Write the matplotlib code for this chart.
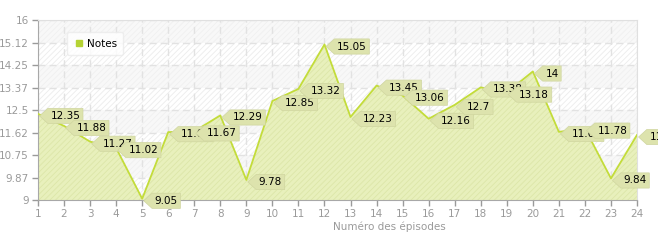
import numpy as np
import matplotlib.pyplot as plt
from matplotlib.lines import Line2D
from matplotlib.path import Path

# episode numbers and ratings
episodes = list(range(1, 25))
notes = [12.35, 11.88, 11.27, 11.02, 9.05, 11.64, 11.67, 12.29, 9.78, 12.85,
         13.32, 15.05, 12.23, 13.45, 13.06, 12.16, 12.7, 13.38, 13.18, 14,
         11.65, 11.78, 9.84, 11.53]
labels = ['12.35', '11.88', '11.27', '11.02', '9.05', '11.64', '11.67', '12.29',
          '9.78', '12.85', '13.32', '15.05', '12.23', '13.45', '13.06', '12.16',
          '12.7', '13.38', '13.18', '14', '11.65', '11.78', '9.84', '11.53']
yticks = [9, 9.875, 10.75, 11.625, 12.5, 13.375, 14.25, 15.125, 16]
ytick_labels = ['9', '9.87', '10.75', '11.62', '12.5', '13.37', '14.25', '15.12', '16']

plt.rcParams['hatch.linewidth'] = 0.6


def tag(x0, y0, width, height, mutation_size):
    # box with a small arrow on the left side
    pad = 0.25 * mutation_size
    x0 -= pad
    y0 -= pad
    w = width + 2 * pad
    h = height + 2 * pad
    a = h * 0.55
    verts = [(x0, y0), (x0 + w, y0), (x0 + w, y0 + h), (x0, y0 + h),
             (x0 - a, y0 + h / 2), (x0, y0)]
    return Path(verts, closed=True)


fig = plt.figure(figsize=(6.58, 2.4), dpi=100)
ax = fig.add_axes([38 / 658, 40 / 240, 599 / 658, 180 / 240])
ax.set_xlim(1, 24)
ax.set_ylim(9, 16)

# striped background bands
for i in range(len(yticks) - 1):
    if i % 2 == 0:
        ax.axhspan(yticks[i], yticks[i + 1], facecolor='white', edgecolor='#ececec',
                   hatch='//////', lw=0, zorder=0)
    else:
        ax.axhspan(yticks[i], yticks[i + 1], facecolor='#f8f8f8', edgecolor='#f0f0f0',
                   hatch='//////', lw=0, zorder=0)

ax.grid(True, color='#e2e2e2', linestyle=(0, (5, 3)), linewidth=1, zorder=1)

# area under the curve
ax.fill_between(episodes, notes, 9, facecolor='#e8f0bc', edgecolor='#dce6a8',
                hatch='//////', lw=0, zorder=2)
ax.plot(episodes, notes, color='#c3dc3a', lw=1.3, zorder=3)

# value tags
for x, y, t in zip(episodes, notes, labels):
    ax.annotate(t, (x, y), xytext=(9, -1.5), textcoords='offset points',
                ha='left', va='center', fontsize=7.5, color='black', zorder=5,
                annotation_clip=False,
                bbox=dict(boxstyle=tag, fc='#dde3ad', ec='#d0d6a0', lw=0.5))

ax.set_yticks(yticks)
ax.set_yticklabels(ytick_labels)
ax.set_xticks(episodes)
ax.tick_params(colors='#9a9a9a', labelsize=7.5, length=4, width=1, pad=2.5)
for s in ['left', 'bottom']:
    ax.spines[s].set_color('#a8a8a8')
for s in ['top', 'right']:
    ax.spines[s].set_color('#e0e0e0')

ax.set_xlabel('Numéro des épisodes', color='#9a9a9a', fontsize=7.5, labelpad=2)
ax.xaxis.set_label_coords(0.586, -0.12)

handle = Line2D([], [], marker='s', color='#b5d334', lw=0, markersize=4)
leg = ax.legend([handle], ['Notes'], loc='upper left', bbox_to_anchor=(0.04, 0.96),
                fontsize=7.5, frameon=True, fancybox=True, shadow=False,
                handletextpad=0.3, borderpad=0.6, handlelength=1.0)
leg.get_frame().set_edgecolor('#ebebeb')
leg.get_frame().set_facecolor('white')
leg.set_zorder(6)

fig.savefig('out.png', dpi=100)
